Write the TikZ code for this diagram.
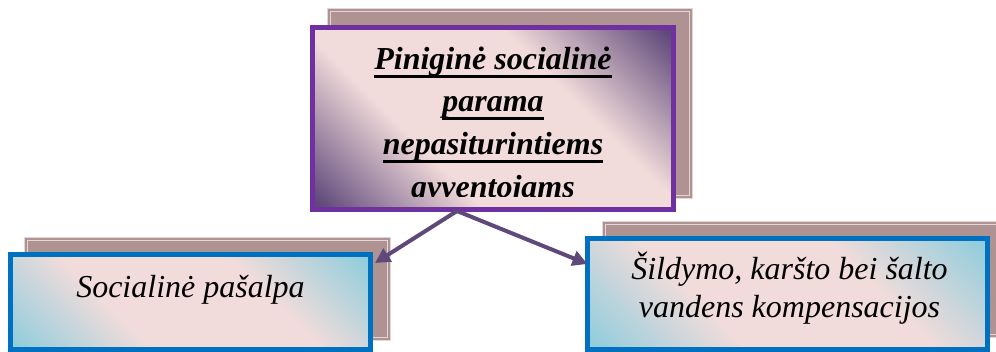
\documentclass[tikz,border=0pt]{standalone}
\usepackage{fontspec}
\setmainfont{Liberation Serif}
\usetikzlibrary{arrows.meta}
\definecolor{pinkc}{HTML}{F2DCDB}
\definecolor{purpd}{HTML}{5F497A}
\definecolor{bluel}{HTML}{92CDDC}
\definecolor{shadowc}{HTML}{AF9292}
\definecolor{shadowl}{HTML}{E4D6D6}
\definecolor{purpb}{HTML}{7030A0}
\definecolor{blueb}{HTML}{0070C0}
\definecolor{arrowc}{HTML}{5F497A}
\pgfdeclareverticalshading{purpgrad}{100bp}{color(0bp)=(purpd); color(16bp)=(purpd); color(37bp)=(pinkc); color(63bp)=(pinkc); color(84bp)=(purpd); color(100bp)=(purpd)}
\pgfdeclareverticalshading{bluegrad}{100bp}{color(0bp)=(bluel); color(16bp)=(bluel); color(37bp)=(pinkc); color(63bp)=(pinkc); color(84bp)=(bluel); color(100bp)=(bluel)}
\begin{document}
\begin{tikzpicture}[x=1pt,y=-1pt,
  backbox/.style={draw=shadowl, line width=0.8pt, fill=shadowc, anchor=north west, inner sep=0pt, outer sep=0pt},
  frontbox/.style={line width=5pt, anchor=north west, inner sep=0pt, outer sep=0pt},
  purplebox/.style={frontbox, draw=purpb, shading=purpgrad, shading angle=-45},
  bluebox/.style={frontbox, draw=blueb, shading=bluegrad, shading angle=-45},
  toptext/.style={anchor=base, inner sep=0pt, font=\fontsize{32}{37}\selectfont\bfseries\itshape},
  uline/.style={line width=3pt, black},
  lowtext/.style={anchor=base, inner sep=0pt, font=\fontsize{32}{37}\selectfont\itshape},
  arr/.style={draw=arrowc, line width=4pt, -{Triangle[length=15pt,width=15pt]}}]
\useasboundingbox (0,0) rectangle (996,352);
% shadow boxes
\node[backbox, minimum width=365pt, minimum height=190pt] (stop) at (327,8) {};
\node[backbox, minimum width=366pt, minimum height=103pt] (sleft) at (24,237) {};
\node[backbox, minimum width=400pt, minimum height=116pt] (sright) at (602,221) {};
\foreach \b in {stop,sleft,sright}
  \draw[shadowl, line width=0.6pt] ([shift={(3pt,-3pt)}]\b.north west) rectangle ([shift={(-3pt,3pt)}]\b.south east);
% front boxes
\node[purplebox, minimum width=361pt, minimum height=182pt] (ptop) at (312.5,27.5) {};
\node[bluebox, minimum width=360pt, minimum height=95pt] (pleft) at (10.5,254.5) {};
\node[bluebox, minimum width=400pt, minimum height=111pt] (pright) at (587.5,238.5) {};
% top text (clipped like the original)
\begin{scope}
  \clip (ptop.north west) rectangle ([yshift=12.5pt]ptop.south east);
  \node[toptext] (t1) at (493,70) {Piniginė socialinė};
  \node[toptext] (t2) at (493,112) {parama};
  \node[toptext] (t3) at (493,155) {nepasiturintiems};
  \node[toptext] (t4) at (493,198) {gyventojams};
  \foreach \t in {t1,t2,t3,t4}
    \draw[uline] ([yshift=-6.5pt]\t.base west) -- ([yshift=-6.5pt]\t.base east);
\end{scope}
% lower texts
\node[lowtext] (l1) at (190.5,298) {Socialinė pašalpa};
\node[lowtext] (r1) at (789.5,280) {Šildymo, karšto bei šalto};
\node[lowtext] (r2) at (789.5,318) {vandens kompensacijos};
% arrows
\draw[arr] ([xshift=-36pt,yshift=-1.5pt]ptop.south) -- ([xshift=4.5pt,yshift=-8.5pt]pleft.north east);
\draw[arr] ([xshift=-36pt,yshift=-1.5pt]ptop.south) -- ([xshift=0pt,yshift=-25.5pt]pright.north west);
\end{tikzpicture}
\end{document}
